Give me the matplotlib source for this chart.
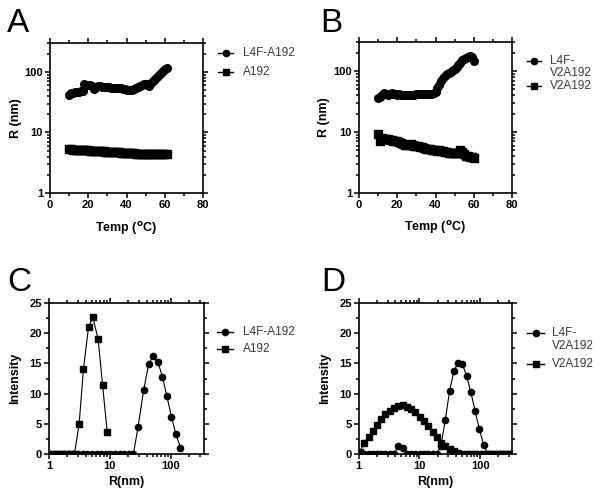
import numpy as np
import matplotlib.pyplot as plt
from matplotlib.lines import Line2D
from matplotlib.ticker import FixedLocator, FixedFormatter, LogLocator, NullFormatter, MultipleLocator

plt.rcParams['font.family'] = ['Liberation Sans', 'DejaVu Sans']
plt.rcParams['font.weight'] = 'bold'

# Panel A: radius vs temperature
temp_a = [10, 11, 12, 13, 14, 15, 16, 17, 18, 19, 20, 21, 22, 23, 24, 25, 26, 27, 28, 29,
          30, 31, 32, 33, 34, 35, 36, 37, 38, 39, 40, 41, 42, 43, 44, 45, 46, 47, 48, 49,
          50, 51, 52, 53, 54, 55, 56, 57, 58, 59, 60, 61]
l4f_a192 = [42, 44, 45, 46, 47, 47, 48, 49, 62, 61, 60, 60, 59, 53, 57, 58, 58, 57, 57, 56,
            56, 56, 55, 55, 55, 55, 54, 54, 53, 52, 51, 51, 50, 51, 53, 55, 57, 59, 61, 62,
            63, 61, 59, 66, 72, 77, 83, 90, 97, 104, 110, 115]
a192 = [5.3, 5.25, 5.2, 5.2, 5.2, 5.15, 5.15, 5.1, 5.1, 5.05, 5.05, 5.0, 5.0, 4.95, 4.95, 4.9,
        4.9, 4.85, 4.85, 4.8, 4.8, 4.8, 4.8, 4.75, 4.75, 4.7, 4.7, 4.65, 4.65, 4.6, 4.6, 4.55,
        4.55, 4.5, 4.5, 4.45, 4.45, 4.4, 4.4, 4.4, 4.4, 4.4, 4.4, 4.4, 4.4, 4.4, 4.35, 4.35,
        4.35, 4.35, 4.35, 4.35]

# Panel B
temp_b = [10, 11, 12, 13, 14, 15, 16, 17, 18, 19, 20, 21, 22, 23, 24, 25, 26, 27, 28, 29,
          30, 31, 32, 33, 34, 35, 36, 37, 38, 39, 40, 41, 42, 43, 44, 45, 46, 47, 48, 49,
          50, 51, 52, 53, 54, 55, 56, 57, 58, 59, 60]
l4f_v2a192 = [36, 38, 41, 44, 42, 40, 42, 43, 42, 42, 41, 42, 41, 41, 41, 40, 41, 41, 41, 41,
              42, 42, 42, 42, 42, 42, 42, 42, 42, 43, 45, 52, 60, 68, 76, 82, 88, 93, 98, 104,
              110, 116, 124, 135, 150, 160, 165, 172, 180, 168, 148]
v2a192 = [9.2, 7.2, 8.0, 7.8, 7.6, 7.8, 7.5, 7.4, 7.2, 7.1, 7.0, 6.8, 6.6, 6.4, 6.2, 6.2,
          6.1, 6.3, 6.2, 6.0, 5.9, 5.8, 5.7, 5.6, 5.5, 5.3, 5.3, 5.2, 5.1, 5.0, 5.0, 4.9,
          5.0, 4.9, 4.8, 4.7, 4.7, 4.6, 4.6, 4.6, 4.6, 4.5, 4.5, 5.0, 4.7, 4.3, 4.1, 4.0,
          3.9, 3.9, 3.8]

# Panel C: size distribution
r_c_sq = [1.07, 1.28, 1.53, 1.83, 2.19, 2.61, 3.12, 3.68, 4.45, 5.24, 6.41, 7.56, 9.03]
int_c_sq = [0, 0, 0, 0, 0, 0, 4.9, 14.1, 21.0, 22.6, 19.0, 11.5, 3.6]
r_c_ci = [1.06, 1.26, 1.50, 1.78, 2.12, 2.52, 3.0, 3.58, 4.26, 5.07, 6.03, 7.18, 8.55,
          10.2, 12.1, 14.4, 17.1, 20.4, 24.3, 28.9, 35.8, 43.3, 51.0, 60.9, 72.7, 85.8,
          102.3, 120.5, 143.9]
int_c_ci = [0, 0, 0, 0, 0, 0, 0, 0, 0, 0, 0, 0, 0, 0, 0, 0, 0, 0, 0,
            4.4, 10.6, 14.9, 16.2, 15.3, 12.8, 9.6, 6.2, 3.3, 1.05]

# Panel D
r_d = [1.05, 1.23, 1.45, 1.70, 2.00, 2.35, 2.76, 3.25, 3.82, 4.49, 5.27, 6.20, 7.29, 8.57,
       10.1, 11.8, 13.9, 16.4, 19.2, 22.6, 26.6, 31.3, 36.8, 43.2, 50.8, 59.8, 70.3, 82.6,
       97.1, 114, 134, 158, 186, 218, 257, 302]
int_d_sq = [0.45, 1.9, 2.9, 3.85, 4.8, 5.8, 6.6, 7.2, 7.7, 8.0, 8.05, 7.85, 7.5, 6.9,
            6.2, 5.5, 4.7, 3.75, 2.8, 1.9, 1.3, 0.9, 0.5, 0.25, 0, 0, 0, 0,
            0, 0, 0, 0, 0, 0, 0, 0]
int_d_ci = [0, 0, 0, 0, 0, 0, 0, 0, 0, 1.3, 1.1, 0, 0, 0,
            0, 0, 0, 0, 0, 1.4, 5.7, 10.4, 13.7, 15.1, 14.9, 12.9, 10.2, 7.1,
            4.1, 1.6, 0, 0, 0, 0, 0, 0]

W, H = 601, 497
fig = plt.figure(figsize=(W / 100, H / 100), dpi=100)


def fx(px):
    return px / W


def fy(py):
    return 1 - py / H


def make_axes(left, top, right, bottom):
    return fig.add_axes([fx(left), fy(bottom), (right - left) / W, (bottom - top) / H])


def style(ax):
    for s in ax.spines.values():
        s.set_linewidth(1.2)
    ax.tick_params(which='both', direction='out', top=True, right=True,
                   labeltop=False, labelright=False, width=1.1, labelsize=8, pad=1.5)
    ax.tick_params(which='major', length=3.5)
    ax.tick_params(which='minor', length=2)
    plt.setp(ax.get_xticklabels() + ax.get_yticklabels(), fontweight='bold')


def log_y(ax):
    ax.set_yscale('log')
    ax.set_ylim(1, 300)
    ax.yaxis.set_major_locator(FixedLocator([1, 10, 100]))
    ax.yaxis.set_major_formatter(FixedFormatter(['1', '10', '100']))
    ax.yaxis.set_minor_locator(LogLocator(base=10, subs=np.arange(2, 10)))
    ax.yaxis.set_minor_formatter(NullFormatter())


def log_x(ax, xmax):
    ax.set_xscale('log')
    ax.set_xlim(1, xmax)
    ax.xaxis.set_major_locator(FixedLocator([1, 10, 100]))
    ax.xaxis.set_major_formatter(FixedFormatter(['1', '10', '100']))
    ax.xaxis.set_minor_locator(LogLocator(base=10, subs=np.arange(2, 10)))
    ax.xaxis.set_minor_formatter(NullFormatter())


def legend_entry(x1, x2, xt, y, marker, lines, dy=11.5):
    xm = (x1 + x2) / 2
    ln = Line2D([fx(x1), fx(xm), fx(x2)], [fy(y)] * 3, transform=fig.transFigure,
                color='black', lw=1.0, marker=marker, markersize=4.5, markevery=[1])
    fig.add_artist(ln)
    for i, t in enumerate(lines):
        fig.text(fx(xt), fy(y + i * dy), t, ha='left', va='center', fontsize=8.5,
                 fontweight='normal', color='#3a3a3a')


kw = dict(color='black', lw=0.8)
lab = dict(fontsize=9, fontweight='bold')

# A
ax = make_axes(50, 43, 203, 193)
ax.plot(temp_a, l4f_a192, marker='o', ms=5.5, **kw)
ax.plot(temp_a, a192, marker='s', ms=5.5, **kw)
log_y(ax)
ax.set_xlim(0, 80)
ax.xaxis.set_major_locator(MultipleLocator(20))
ax.xaxis.set_minor_locator(MultipleLocator(10))
style(ax)
ax.set_xlabel('Temp ($^{\\mathbf{o}}$C)', **lab)
ax.set_ylabel('R (nm)', **lab)
ax.xaxis.set_label_coords(0.5, -0.18)
ax.yaxis.set_label_coords(-0.185, 0.5)

# B
ax = make_axes(359, 42, 512, 193)
ax.plot(temp_b, l4f_v2a192, marker='o', ms=5.5, **kw)
ax.plot(temp_b, v2a192, marker='s', ms=5.5, **kw)
log_y(ax)
ax.set_xlim(0, 80)
ax.xaxis.set_major_locator(MultipleLocator(20))
ax.xaxis.set_minor_locator(MultipleLocator(10))
style(ax)
ax.set_xlabel('Temp ($^{\\mathbf{o}}$C)', **lab)
ax.set_ylabel('R (nm)', **lab)
ax.xaxis.set_label_coords(0.5, -0.17)
ax.yaxis.set_label_coords(-0.19, 0.5)

# C
ax = make_axes(49, 303, 204, 454)
ax.plot(r_c_ci, int_c_ci, marker='o', ms=4.5, **kw)
ax.plot(r_c_sq, int_c_sq, marker='s', ms=4.5, **kw)
log_x(ax, 350)
ax.set_ylim(0, 25)
ax.yaxis.set_major_locator(MultipleLocator(5))
ax.yaxis.set_minor_locator(MultipleLocator(2.5))
style(ax)
ax.set_xlabel('R(nm)', **lab)
ax.set_ylabel('Intensity', **lab)
ax.xaxis.set_label_coords(0.5, -0.145)
ax.yaxis.set_label_coords(-0.18, 0.5)

# D
ax = make_axes(358.7, 302.7, 511.7, 454.3)
ax.plot(r_d, int_d_sq, marker='s', ms=4.5, **kw)
ax.plot(r_d, int_d_ci, marker='o', ms=4.5, **kw)
log_x(ax, 330)
ax.set_ylim(0, 25)
ax.yaxis.set_major_locator(MultipleLocator(5))
ax.yaxis.set_minor_locator(MultipleLocator(2.5))
style(ax)
ax.set_xlabel('R(nm)', **lab)
ax.set_ylabel('Intensity', **lab)
ax.xaxis.set_label_coords(0.5, -0.145)
ax.yaxis.set_label_coords(-0.18, 0.5)

# legends
legend_entry(218, 233, 243, 53, 'o', ['L4F-A192'])
legend_entry(218, 233, 243, 72, 's', ['A192'])
legend_entry(527, 541, 550, 61, 'o', ['L4F-', 'V2A192'])
legend_entry(527, 541, 550, 86, 's', ['V2A192'])
legend_entry(217, 233, 243, 331.7, 'o', ['L4F-A192'])
legend_entry(217, 233, 243, 349.3, 's', ['A192'])
legend_entry(527, 544, 552, 333.3, 'o', ['L4F-', 'V2A192'], dy=12.7)
legend_entry(527, 544, 552, 364, 's', ['V2A192'])

# panel letters
for letter, x, y in [('A', 7, 32), ('B', 320, 32), ('C', 7, 291), ('D', 321, 291)]:
    fig.text(fx(x), fy(y), letter, ha='left', va='baseline', fontsize=24, fontweight='normal')

fig.savefig('out.png', dpi=100)
